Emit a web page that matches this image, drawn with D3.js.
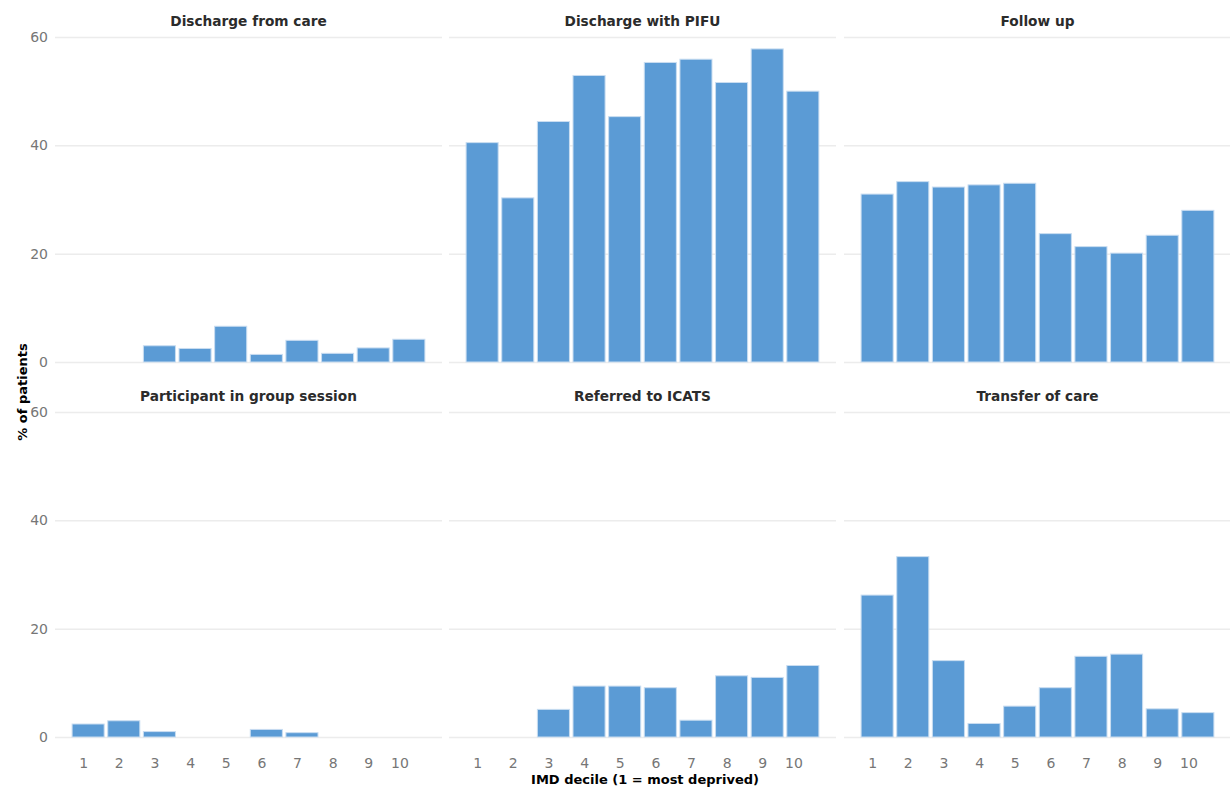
<!DOCTYPE html>
<html>
<head>
<meta charset="utf-8">
<script src="https://cdn.jsdelivr.net/npm/d3@7"></script>
<style>
  html, body { margin: 0; padding: 0; background: #ffffff; }
  svg { display: block; font-family: "DejaVu Sans", Verdana, sans-serif; }
</style>
</head>
<body>
<svg id="chart" width="1230" height="787"></svg>
<script>
// IMD deciles (1 = most deprived)
const deciles = [1, 2, 3, 4, 5, 6, 7, 8, 9, 10];

// Panel titles, in reading order
const outcomes = [
  "Discharge from care",
  "Discharge with PIFU",
  "Follow up",
  "Participant in group session",
  "Referred to ICATS",
  "Transfer of care"
];

// % of patients per decile for each outcome (null = no patients)
const dischargeFromCare   = [null, null, 3.0, 2.5, 6.6, 1.4, 4.0, 1.6, 2.6, 4.2];
const dischargeWithPIFU   = [40.5, 30.3, 44.4, 52.9, 45.3, 55.3, 55.9, 51.6, 57.8, 50.0];
const followUp            = [31.0, 33.3, 32.3, 32.7, 33.0, 23.7, 21.3, 20.1, 23.4, 28.0];
const groupSession        = [2.4, 3.0, 1.0, null, null, 1.4, 0.8, null, null, null];
const referredToICATS     = [null, null, 5.1, 9.4, 9.4, 9.1, 3.1, 11.3, 11.0, 13.2];
const transferOfCare      = [26.2, 33.3, 14.1, 2.5, 5.7, 9.1, 14.9, 15.3, 5.2, 4.5];

const seriesValues = [
  dischargeFromCare, dischargeWithPIFU, followUp,
  groupSession, referredToICATS, transferOfCare
];

const yTicks = [0, 20, 40, 60];

const svg = d3.select("#chart");

// Facet grid geometry
const colX = [55, 449, 844];
const panelW = 387;
const rowTop = [37, 412];     // pixel of the 60% line
const rowBottom = [362, 737]; // pixel of the 0% baseline

const barFill = "#5b9bd5";
const barEdge = "#c9ddf1";
const gridColor = "#ececec";
const tickColor = "#767676";

outcomes.forEach((name, i) => {
  const col = i % 3, row = Math.floor(i / 3);
  const x0 = colX[col];

  const x = d3.scaleBand()
    .domain(deciles)
    .range([x0, x0 + panelW])
    .paddingInner(0.1)
    .paddingOuter(0.48);

  const y = d3.scaleLinear()
    .domain([0, 60])
    .range([rowBottom[row], rowTop[row]]);

  const g = svg.append("g").attr("class", "panel");

  // horizontal gridlines
  const grid = g.append("g")
    .attr("transform", `translate(${x0},0)`)
    .call(d3.axisLeft(y).tickValues(yTicks).tickSize(-panelW).tickFormat(col === 0 ? d3.format("d") : ""));
  grid.select(".domain").remove();
  grid.selectAll(".tick line")
    .attr("stroke", gridColor)
    .attr("stroke-width", 1.5);
  grid.selectAll(".tick text")
    .attr("x", -7)
    .attr("fill", tickColor)
    .attr("font-size", 14)
    .attr("font-family", "\"DejaVu Sans\", Verdana, sans-serif");

  // bars
  const data = deciles.map((d, k) => ({ decile: d, value: seriesValues[i][k] }))
    .filter(d => d.value != null);

  g.append("g")
    .selectAll("rect")
    .data(data)
    .join("rect")
    .attr("x", d => x(d.decile))
    .attr("width", x.bandwidth())
    .attr("y", d => y(d.value))
    .attr("height", d => y(0) - y(d.value))
    .attr("fill", barFill)
    .attr("stroke", barEdge)
    .attr("stroke-width", 1);

  // decile labels on the bottom row only
  if (row === 1) {
    const xa = g.append("g")
      .attr("transform", `translate(0,${rowBottom[row] + 21})`)
      .call(d3.axisBottom(x).tickSize(0).tickPadding(0));
    xa.select(".domain").remove();
    xa.selectAll(".tick text")
      .attr("text-anchor", "end")
      .attr("dx", 0)
      .attr("dy", "0.71em")
      .attr("y", 0)
      .attr("fill", tickColor)
      .attr("font-size", 14)
      .attr("font-family", "\"DejaVu Sans\", Verdana, sans-serif");
  }

  // panel title
  g.append("text")
    .attr("x", x0 + panelW / 2)
    .attr("y", row === 0 ? 26 : 401)
    .attr("text-anchor", "middle")
    .attr("font-size", 13.7)
    .attr("font-weight", "bold")
    .attr("fill", "#2b2b2b")
    .text(name);
});

// axis titles
svg.append("text")
  .attr("x", 645)
  .attr("y", 784)
  .attr("text-anchor", "middle")
  .attr("font-size", 13)
  .attr("font-weight", "bold")
  .attr("fill", "#000")
  .text("IMD decile (1 = most deprived)");

svg.append("text")
  .attr("transform", "translate(27,392) rotate(-90)")
  .attr("text-anchor", "middle")
  .attr("font-size", 13)
  .attr("font-weight", "bold")
  .attr("fill", "#000")
  .text("% of patients");
</script>
</body>
</html>
